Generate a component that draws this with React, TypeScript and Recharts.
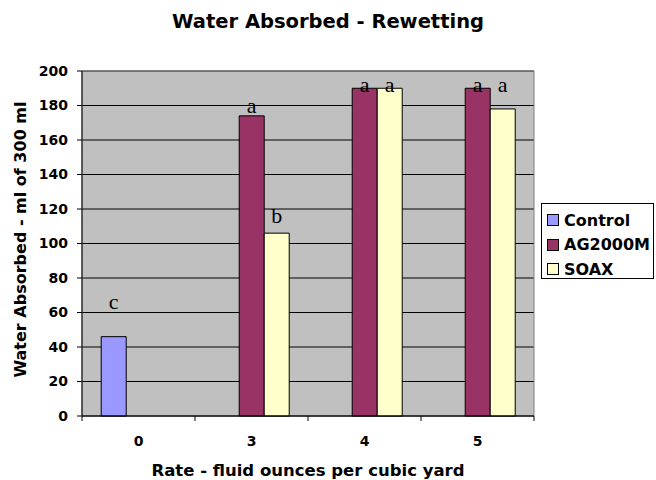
import { Bar, BarChart, CartesianGrid, LabelList, ReferenceArea, XAxis, YAxis } from "recharts";

const rates = ["0", "3", "4", "5"];
const controlValues = [46, null, null, null];
const ag2000mValues = [null, 174, 190, 190];
const soaxValues = [null, 106, 190, 178];

// significance letters and the value their baseline sits at
const controlLetters = ["c", null, null, null];
const controlLetterAt = [62, null, null, null];
const ag2000mLetters = [null, "a", "a", "a"];
const ag2000mLetterAt = [null, 175.5, 188, 188];
const soaxLetters = [null, "b", "a", "a"];
const soaxLetterAt = [null, 112, 188, 188];

const yTicks = [0, 20, 40, 60, 80, 100, 120, 140, 160, 180, 200];

const series = [
  { key: "control", name: "Control", color: "#9999FF", values: controlValues, letters: controlLetters, at: controlLetterAt },
  { key: "ag2000m", name: "AG2000M", color: "#993366", values: ag2000mValues, letters: ag2000mLetters, at: ag2000mLetterAt },
  { key: "soax", name: "SOAX", color: "#FFFFCC", values: soaxValues, letters: soaxLetters, at: soaxLetterAt }
];

const data = rates.map((rate, i) => ({
  rate,
  control: controlValues[i],
  ag2000m: ag2000mValues[i],
  soax: soaxValues[i]
}));

const W = 656;
const H = 480;
const margin = { top: 71, right: 122, bottom: 0, left: 0 };
const yAxisWidth = 82;
const xAxisHeight = 64;
const band = (W - margin.right - yAxisWidth) / rates.length;
const boldFont = "'DejaVu Sans', Arial, sans-serif";

function makeLetterLabel(letters: (string | null)[], at: (number | null)[], values: (number | null)[]) {
  // bars with no value are skipped, so map the label index back to the category
  const present = values.map((v, i) => (v == null ? -1 : i)).filter((i) => i >= 0);
  return (props: any) => {
    const { x, y, width, height, index } = props;
    const i = present[index];
    if (i == null) return null;
    const letter = letters[i];
    const value = values[i];
    const pos = at[i];
    if (!letter || value == null || pos == null) return null;
    const zero = Number(y) + Number(height);
    const perUnit = Number(height) / value;
    return (
      <text
        x={Number(x) + Number(width) / 2}
        y={zero - pos * perUnit}
        textAnchor="middle"
        fontFamily="'Liberation Serif', 'Times New Roman', serif"
        fontSize={22}
        fill="#000"
      >
        {letter}
      </text>
    );
  };
}

function RateTick(props: any) {
  const { x, y, payload, index } = props;
  const axisY = y - 20;
  return (
    <g>
      {index === 0 && <line x1={x - band / 2} x2={x - band / 2} y1={axisY} y2={axisY + 5} stroke="#000" />}
      <line x1={x + band / 2} x2={x + band / 2} y1={axisY} y2={axisY + 5} stroke="#000" />
      <text x={x} y={y} dy="0.71em" textAnchor="middle" fontFamily={boldFont} fontWeight="bold" fontSize={14} fill="#000">
        {payload.value}
      </text>
    </g>
  );
}

function YLabel(props: any) {
  const vb = props.viewBox || { x: 0, y: 0, height: 0 };
  const cx = vb.x + 20;
  const cy = vb.y + vb.height / 2 - 4;
  return (
    <text
      x={cx}
      y={cy}
      transform={`rotate(-90, ${cx}, ${cy})`}
      textAnchor="middle"
      dominantBaseline="central"
      fontFamily={boldFont}
      fontWeight="bold"
      fontSize={16}
      fill="#000"
    >
      Water Absorbed - ml of 300 ml
    </text>
  );
}

export default function App() {
  return (
    <div style={{ position: "absolute", left: 0, top: 0, width: W, height: H, background: "#fff" }}>
      <div
        style={{
          position: "absolute",
          left: 0,
          top: 10,
          width: W,
          textAlign: "center",
          fontFamily: boldFont,
          fontWeight: "bold",
          fontSize: 19.5,
          color: "#000"
        }}
      >
        Water Absorbed - Rewetting
      </div>

      <BarChart width={W} height={H} data={data} margin={margin} barCategoryGap="17%" barGap={0}>
        <CartesianGrid vertical={false} stroke="#000" fill="#C0C0C0" fillOpacity={1} />
        <ReferenceArea y1={0} y2={200} fill="none" stroke="#808080" ifOverflow="visible" />
        <XAxis
          dataKey="rate"
          height={xAxisHeight}
          axisLine={{ stroke: "#000" }}
          tickLine={false}
          tickSize={20}
          tickMargin={0}
          tick={RateTick}
          interval={0}
          label={{
            value: "Rate - fluid ounces per cubic yard",
            position: "insideBottom",
            offset: 4,
            style: { fontFamily: boldFont, fontWeight: "bold", fontSize: 16.5, fill: "#000" }
          }}
        />
        <YAxis
          width={yAxisWidth}
          domain={[0, 200]}
          ticks={yTicks}
          interval={0}
          axisLine={{ stroke: "#000" }}
          tickLine={{ stroke: "#000" }}
          tickSize={5}
          tickMargin={9}
          tick={{ fontFamily: boldFont, fontWeight: "bold", fontSize: 14, fill: "#000" }}
          label={<YLabel />}
        />
        {series.map((s) => (
          <Bar key={s.key} dataKey={s.key} name={s.name} fill={s.color} stroke="#000" strokeWidth={1} isAnimationActive={false}>
            <LabelList dataKey={s.key} content={makeLetterLabel(s.letters, s.at, s.values)} />
          </Bar>
        ))}
      </BarChart>

      <div
        style={{
          position: "absolute",
          left: 541,
          top: 203,
          width: 113,
          height: 76,
          border: "1px solid #000",
          background: "#fff",
          fontFamily: boldFont,
          fontWeight: "bold",
          fontSize: 16,
          color: "#000",
          paddingTop: 4,
          boxSizing: "border-box"
        }}
      >
        {series.map((s) => (
          <div key={s.key} style={{ display: "flex", alignItems: "center", height: 24.5, paddingLeft: 5 }}>
            <span
              style={{
                display: "inline-block",
                width: 10,
                height: 10,
                background: s.color,
                border: "1px solid #000",
                marginRight: 5
              }}
            />
            {s.name}
          </div>
        ))}
      </div>
    </div>
  );
}
